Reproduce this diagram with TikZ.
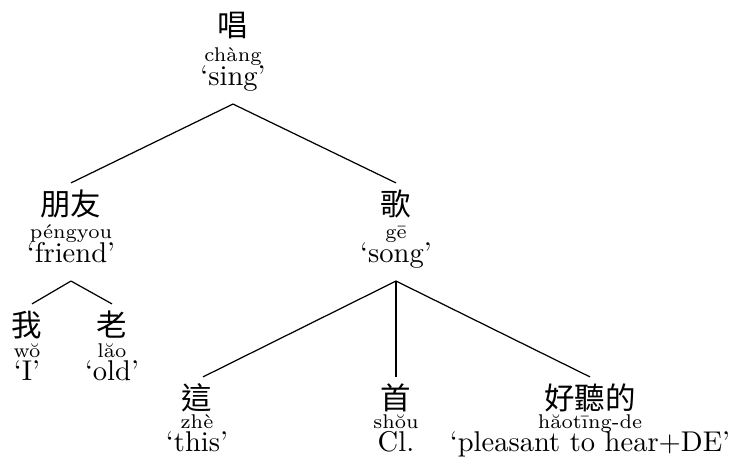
\documentclass[tikz,border=0pt]{standalone}
\usepackage{fontspec}
\newfontfamily\cjkfont{Noto Sans CJK TC}
\begin{document}
\begin{tikzpicture}[x=0.3676pt,y=-0.3676pt,
  cjk/.style={anchor=base,inner sep=0pt,outer sep=0pt,text height=11.8pt,text depth=0pt,font=\fontsize{11.2}{14}\selectfont\cjkfont},
  py/.style={anchor=base,inner sep=0pt,font=\fontsize{7.3}{9}\selectfont},
  gl/.style={anchor=base,inner xsep=0pt,inner ysep=0pt,outer sep=0pt,text depth=7.0pt,font=\fontsize{10.5}{12}\selectfont},
  edge/.style={draw=black,line width=0.45pt}]
\useasboundingbox (0,0) rectangle (732,464);
% root
\node[cjk] (chang) at (233,36) {唱};
\node[py] (chang-p) at (233,61) {chàng};
\node[gl] (chang-g) at (233,85) {‘sing’};
% friend
\node[cjk] (pengyou) at (71,215) {朋友};
\node[py] (pengyou-p) at (71,238) {péngyou};
\node[gl] (pengyou-g) at (71,262) {‘friend’};
% song
\node[cjk] (ge) at (396,215) {歌};
\node[py] (ge-p) at (396,238) {gē};
\node[gl] (ge-g) at (396,262) {‘song’};
% I
\node[cjk] (wo) at (27,336) {我};
\node[py] (wo-p) at (27,357) {wŏ};
\node[gl] (wo-g) at (27,380) {‘I’};
% old
\node[cjk] (lao) at (112,336) {老};
\node[py] (lao-p) at (112,357) {lăo};
\node[gl] (lao-g) at (112,380) {‘old’};
% this
\node[cjk] (zhe) at (197,409) {這};
\node[py] (zhe-p) at (197,428) {zhè};
\node[gl] (zhe-g) at (197,451) {‘this’};
% Cl
\node[cjk] (shou) at (396,409) {首};
\node[py] (shou-p) at (396,428) {shŏu};
\node[gl] (shou-g) at (396,451) {Cl.};
% pleasant
\node[cjk] (haoting) at (590,409) {好聽的};
\node[py] (haoting-p) at (590,428) {hăotīng-de};
\node[gl] (haoting-g) at (590,451) {‘pleasant to hear+DE’};
% edges
\draw[edge] (chang-g.south) -- (pengyou.north);
\draw[edge] (chang-g.south) -- (ge.north);
\draw[edge] (pengyou-g.south) -- ([xshift=5*0.3676pt]wo.north);
\draw[edge] (pengyou-g.south) -- (lao.north);
\draw[edge] (ge-g.south) -- ([xshift=6*0.3676pt]zhe.north);
\draw[edge] (ge-g.south) -- (shou.north);
\draw[edge] (ge-g.south) -- (haoting.north);
\end{tikzpicture}
\end{document}
